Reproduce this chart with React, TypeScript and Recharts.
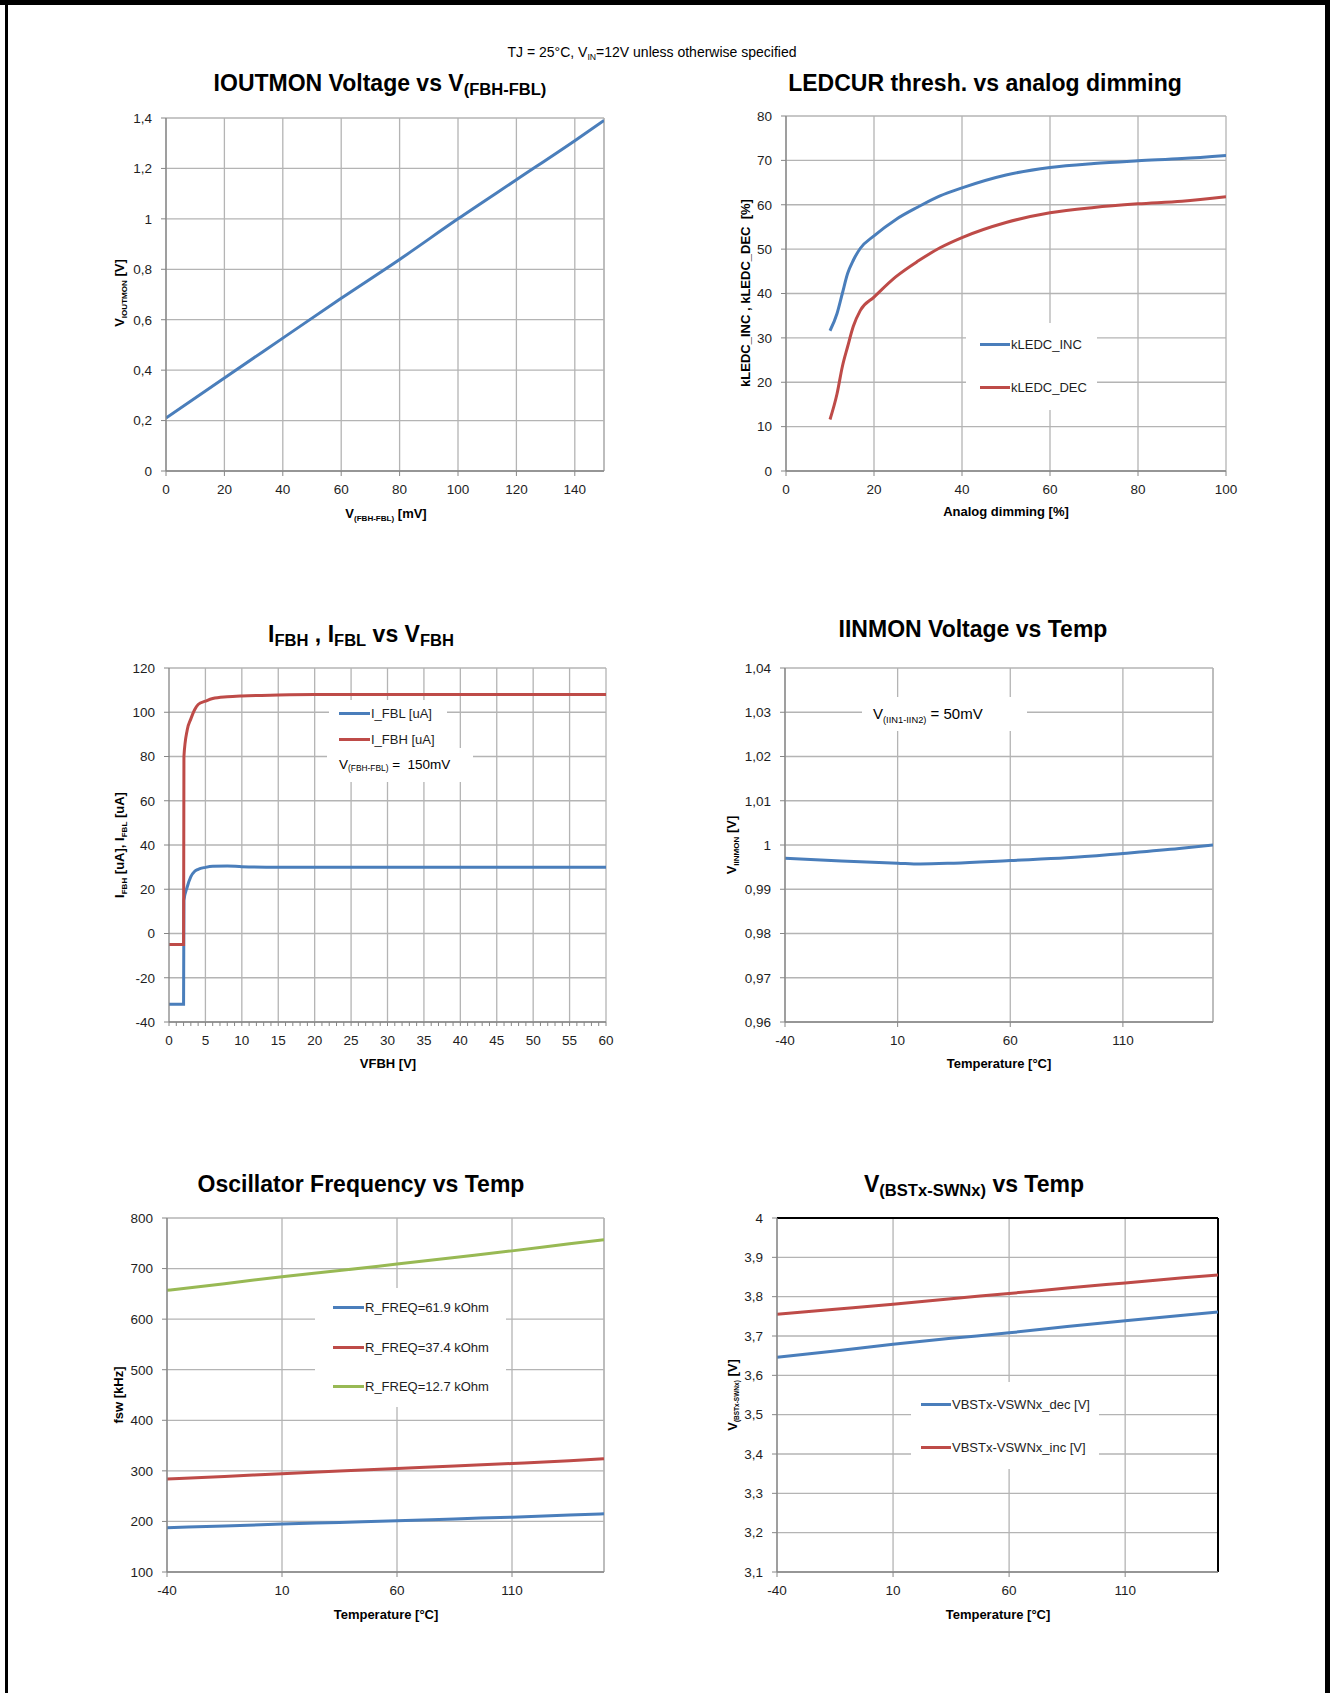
import React from "react";
import {
  LineChart, Line, XAxis, YAxis, CartesianGrid, ReferenceLine, Legend,
} from "recharts";

const FONT = '"Liberation Sans", Arial, sans-serif';
const BLUE = "#4a7ebb";
const RED = "#be4b48";
const GREEN = "#98b954";
const GRID = "#b4b4b4";
const AXIS = "#868686";
const INK = "#1e1e1e";

// IOUTMON voltage vs V(FBH-FBL)
const ioutX = [0, 20, 40, 60, 80, 100, 120, 140, 150];
const ioutV = [0.21, 0.369, 0.527, 0.685, 0.839, 1.0, 1.155, 1.31, 1.39];
const ioutXTicks = [0, 20, 40, 60, 80, 100, 120, 140];
const ioutYTicks = [0, 0.2, 0.4, 0.6, 0.8, 1, 1.2, 1.4];

// LEDCUR thresholds vs analog dimming
const dimX = [10, 11.6, 12.8, 14, 15.3, 16.9, 20, 25, 30, 35, 40, 50, 60, 70, 80, 90, 100];
const kledcInc = [31.6, 35.5, 40, 44.5, 47.5, 50.2, 53, 56.7, 59.5, 62, 63.8, 66.7, 68.4, 69.3, 69.9, 70.4, 71.1];
const kledcDec = [11.6, 17.4, 23.5, 28, 32.6, 36.2, 39.2, 43.8, 47.3, 50.3, 52.6, 56, 58.2, 59.4, 60.2, 60.8, 61.8];
const dimXTicks = [0, 20, 40, 60, 80, 100];
const dimYTicks = [0, 10, 20, 30, 40, 50, 60, 70, 80];

// I_FBH, I_FBL vs VFBH
const vfbhX = [0, 1, 2, 2.05, 2.5, 3, 3.5, 4, 5, 6, 8, 10, 15, 20, 30, 40, 50, 60];
const iFbl = [-32, -32, -32, 15, 21, 25.7, 28, 29, 29.9, 30.4, 30.5, 30.2, 30, 30, 30, 30, 30, 30];
const iFbh = [-5, -5, -5, 80, 92, 97, 101, 103.5, 105, 106.2, 107, 107.4, 107.8, 108, 108, 108, 108, 108];
const vfbhMinorTicks = Array.from({ length: 61 }, (_, i) => i);
const vfbhGrid = [5, 10, 15, 20, 25, 30, 35, 40, 45, 50, 55, 60];
const vfbhYTicks = [-40, -20, 0, 20, 40, 60, 80, 100, 120];

// IINMON voltage vs temperature
const iinX = [-40, -15, 10, 20, 35, 60, 85, 110, 135, 150];
const iinV = [0.997, 0.9964, 0.9959, 0.9957, 0.9959, 0.9965, 0.9971, 0.9981, 0.9992, 1.0];
const iinYTicks = [0.96, 0.97, 0.98, 0.99, 1, 1.01, 1.02, 1.03, 1.04];

// shared temperature axis
const tempX = [-40, -15, 10, 35, 60, 85, 110, 135, 150];
const tempTicks = [-40, 10, 60, 110];

// oscillator frequency vs temperature
const f619 = [187.5, 191, 194.7, 198, 201.3, 205, 208.5, 212.5, 215];
const f374 = [284, 289, 294.5, 299.5, 304.5, 309.5, 314.5, 320, 324];
const f127 = [657, 670, 684, 696, 709, 722, 735, 749, 757];
const fswYTicks = [100, 200, 300, 400, 500, 600, 700, 800];

// V(BSTx-SWNx) vs temperature
const bstDec = [3.646, 3.662, 3.679, 3.694, 3.708, 3.724, 3.739, 3.753, 3.761];
const bstInc = [3.755, 3.768, 3.781, 3.795, 3.808, 3.822, 3.835, 3.848, 3.855];
const bstYTicks = [3.1, 3.2, 3.3, 3.4, 3.5, 3.6, 3.7, 3.8, 3.9, 4];

const fmt = (v: number) => String(Number(v.toFixed(2))).replace(".", ",");

type Part = [string, boolean?];

function Rich({ parts, sub = 0.62, drop = 0.35 }: { parts: Part[]; sub?: number; drop?: number }) {
  return (
    <>
      {parts.map(([t, s], i) =>
        s ? (
          <span key={i} style={{ fontSize: `${sub}em`, position: "relative", top: `${drop}em` }}>{t}</span>
        ) : (
          <span key={i}>{t}</span>
        )
      )}
    </>
  );
}

// horizontal text placed by baseline
function Txt({ x, y, size, bold, anchor = "middle", children }: any) {
  return (
    <div
      style={{
        position: "absolute",
        left: x,
        top: y - 0.8465 * size,
        transform: anchor === "middle" ? "translateX(-50%)" : undefined,
        font: `${bold ? "bold " : ""}${size}px ${FONT}`,
        lineHeight: 1,
        whiteSpace: "pre",
        color: "#000",
      }}
    >
      {children}
    </div>
  );
}

// rotated axis title placed by center
function VTxt({ x, y, size, children }: any) {
  return (
    <div
      style={{
        position: "absolute",
        left: x,
        top: y,
        transform: "translate(-50%,-50%) rotate(-90deg)",
        font: `bold ${size}px ${FONT}`,
        lineHeight: 1,
        whiteSpace: "pre",
        color: "#000",
      }}
    >
      {children}
    </div>
  );
}

type Box = { l: number; t: number; r: number; b: number };
type Ser = { key: string; name: string; color: string };
type Leg = { x: number; y: number; w: number; h: number; lineX: number; row0: number; gap: number; lineW: number };

const PAD_L = 80, PAD_T = 12, PAD_R = 12, PAD_B = 40;

function legendContent(cfg: Leg) {
  return (props: any) => (
    <div style={{ position: "relative", width: cfg.w, height: cfg.h, background: "#fff" }}>
      {(props.payload || []).map((p: any, i: number) => (
        <div
          key={i}
          style={{
            position: "absolute",
            left: cfg.lineX,
            top: cfg.row0 + i * cfg.gap - 10,
            height: 20,
            display: "flex",
            alignItems: "center",
            whiteSpace: "nowrap",
          }}
        >
          <span style={{ display: "inline-block", width: cfg.lineW, height: 3, background: p.color }} />
          <span style={{ marginLeft: 1, font: `13px ${FONT}`, color: INK }}>{p.value}</span>
        </div>
      ))}
    </div>
  );
}

function MinorTick(p: any) {
  const v = p.payload.value;
  if (v % 5 !== 0) return <g />;
  return (
    <text x={p.x} y={p.y} dy="0.71em" textAnchor="middle" fill={INK} fontSize={13.5} fontFamily={FONT}>
      {v}
    </text>
  );
}

function Panel({
  plot, data, xDomain, xTicks, yDomain, yTicks, series, legend, edgeX, frame, minor, children,
}: {
  plot: Box; data: any[]; xDomain: [number, number]; xTicks: number[];
  yDomain: [number, number]; yTicks: number[]; series: Ser[]; legend?: Leg;
  edgeX?: number; frame?: boolean; minor?: boolean; children?: any;
}) {
  const W = plot.r - plot.l + PAD_L + PAD_R;
  const H = plot.b - plot.t + PAD_T + PAD_B;
  const left = plot.l - PAD_L;
  const top = plot.t - PAD_T;
  const tickStyle = { fill: INK, fontSize: 13.5, fontFamily: FONT };
  return (
    <div style={{ position: "absolute", left, top, width: W, height: H }}>
      <LineChart width={W} height={H} data={data} margin={{ top: PAD_T, right: PAD_R, bottom: 0, left: 0 }}>
        <CartesianGrid stroke={GRID} strokeWidth={1.3} vertical={!minor} />
        <XAxis
          type="number"
          dataKey="x"
          domain={xDomain}
          ticks={xTicks}
          interval={0}
          height={PAD_B}
          allowDataOverflow
          axisLine={{ stroke: AXIS, strokeWidth: 1.3 }}
          tickLine={{ stroke: AXIS }}
          tickSize={minor ? 4 : 5}
          tickMargin={minor ? 9.5 : 8.5}
          tick={minor ? MinorTick : tickStyle}
        />
        <YAxis
          type="number"
          domain={yDomain}
          ticks={yTicks}
          interval={0}
          width={PAD_L}
          allowDataOverflow
          axisLine={{ stroke: AXIS, strokeWidth: 1.3 }}
          tickLine={{ stroke: AXIS }}
          tickSize={5}
          tickMargin={9}
          tick={tickStyle}
          tickFormatter={fmt}
        />
        {children}
        {edgeX !== undefined && <ReferenceLine x={edgeX} stroke={frame ? "#000" : GRID} strokeWidth={frame ? 2 : 1.3} />}
        {frame && <ReferenceLine y={yDomain[1]} stroke="#000" strokeWidth={2} />}
        {series.map((s) => (
          <Line
            key={s.key}
            type="monotone"
            dataKey={s.key}
            name={s.name}
            stroke={s.color}
            strokeWidth={3}
            dot={false}
            activeDot={false}
            isAnimationActive={false}
          />
        ))}
        {legend && (
          <Legend
            layout="vertical"
            align="center"
            verticalAlign="middle"
            width={legend.w}
            height={legend.h}
            itemSorter={() => 0}
            wrapperStyle={{ left: legend.x - left, top: legend.y - top, width: legend.w, height: legend.h, margin: 0, padding: 0 }}
            content={legendContent(legend)}
          />
        )}
      </LineChart>
    </div>
  );
}

const ioutData = ioutX.map((x, i) => ({ x, v: ioutV[i] }));
const dimData = dimX.map((x, i) => ({ x, inc: kledcInc[i], dec: kledcDec[i] }));
const vfbhData = vfbhX.map((x, i) => ({ x, fbl: iFbl[i], fbh: iFbh[i] }));
const iinData = iinX.map((x, i) => ({ x, v: iinV[i] }));
const oscData = tempX.map((x, i) => ({ x, a: f619[i], b: f374[i], c: f127[i] }));
const bstData = tempX.map((x, i) => ({ x, dec: bstDec[i], inc: bstInc[i] }));

export default function App() {
  return (
    <div style={{ position: "absolute", left: 0, top: 0, width: 1330, height: 1693, background: "#fff", fontFamily: FONT }}>
      {/* page frame */}
      <div style={{ position: "absolute", left: 0, top: 0, width: 1330, height: 5, background: "#000" }} />
      <div style={{ position: "absolute", left: 5, top: 0, width: 3, height: 1693, background: "#000" }} />
      <div style={{ position: "absolute", left: 1325, top: 0, width: 5, height: 1693, background: "#000" }} />

      <Txt x={652} y={57} size={14}>
        <Rich parts={[["TJ = 25°C, V"], ["IN", true], ["=12V unless otherwise specified"]]} />
      </Txt>

      {/* 1 */}
      <Panel
        plot={{ l: 166, t: 118, r: 604, b: 471 }}
        data={ioutData}
        xDomain={[0, 150]}
        xTicks={ioutXTicks}
        yDomain={[0, 1.4]}
        yTicks={ioutYTicks}
        edgeX={150}
        series={[{ key: "v", name: "V_IOUTMON", color: BLUE }]}
      />
      <Txt x={380} y={91} size={23} bold>
        <Rich parts={[["IOUTMON Voltage vs V"], ["(FBH-FBL)", true]]} sub={0.72} drop={0.3} />
      </Txt>
      <VTxt x={120} y={293} size={13}>
        <Rich parts={[["V"], ["IOUTMON", true], [" [V]"]]} />
      </VTxt>
      <Txt x={386} y={518} size={13} bold>
        <Rich parts={[["V"], ["(FBH-FBL)", true], [" [mV]"]]} />
      </Txt>

      {/* 2 */}
      <Panel
        plot={{ l: 786, t: 116, r: 1226, b: 471 }}
        data={dimData}
        xDomain={[0, 100]}
        xTicks={dimXTicks}
        yDomain={[0, 80]}
        yTicks={dimYTicks}
        series={[
          { key: "inc", name: "kLEDC_INC", color: BLUE },
          { key: "dec", name: "kLEDC_DEC", color: RED },
        ]}
        legend={{ x: 966, y: 323, w: 131, h: 87, lineX: 14, row0: 21, gap: 43.4, lineW: 30 }}
      />
      <Txt x={985} y={91} size={23} bold>LEDCUR thresh. vs analog dimming</Txt>
      <VTxt x={745} y={293} size={13}>kLEDC_INC , kLEDC_DEC  [%]</VTxt>
      <Txt x={1006} y={516} size={13} bold>Analog dimming [%]</Txt>

      {/* 3 */}
      <Panel
        plot={{ l: 169, t: 668, r: 606, b: 1022 }}
        data={vfbhData}
        xDomain={[0, 60]}
        xTicks={vfbhMinorTicks}
        yDomain={[-40, 120]}
        yTicks={vfbhYTicks}
        minor
        series={[
          { key: "fbl", name: "I_FBL [uA]", color: BLUE },
          { key: "fbh", name: "I_FBH [uA]", color: RED },
        ]}
        legend={{ x: 329, y: 700, w: 118, h: 48, lineX: 10, row0: 13.3, gap: 26, lineW: 31 }}
      >
        {vfbhGrid.map((g) => (
          <ReferenceLine key={g} x={g} stroke={GRID} strokeWidth={1.3} />
        ))}
      </Panel>
      <div style={{ position: "absolute", left: 327, top: 748, width: 146, height: 34, background: "#fff" }} />
      <Txt x={339} y={769} size={13.5} anchor="start">
        <Rich parts={[["V"], ["(FBH-FBL)", true], [" =  150mV"]]} />
      </Txt>
      <Txt x={361} y={642} size={23} bold>
        <Rich parts={[["I"], ["FBH", true], [" , I"], ["FBL", true], [" vs V"], ["FBH", true]]} sub={0.72} drop={0.3} />
      </Txt>
      <VTxt x={120} y={845} size={13}>
        <Rich parts={[["I"], ["FBH", true], [" [uA], I"], ["FBL", true], [" [uA]"]]} />
      </VTxt>
      <Txt x={388} y={1068} size={13} bold>VFBH [V]</Txt>

      {/* 4 */}
      <Panel
        plot={{ l: 785, t: 668, r: 1213, b: 1022 }}
        data={iinData}
        xDomain={[-40, 150]}
        xTicks={tempTicks}
        yDomain={[0.96, 1.04]}
        yTicks={iinYTicks}
        edgeX={150}
        series={[{ key: "v", name: "V_IINMON", color: BLUE }]}
      />
      <div style={{ position: "absolute", left: 862, top: 697, width: 165, height: 34, background: "#fff" }} />
      <Txt x={873} y={719} size={15} anchor="start">
        <Rich parts={[["V"], ["(IIN1-IIN2)", true], [" = 50mV"]]} />
      </Txt>
      <Txt x={973} y={637} size={23} bold>IINMON Voltage vs Temp</Txt>
      <VTxt x={732} y={845} size={13}>
        <Rich parts={[["V"], ["IINMON", true], [" [V]"]]} />
      </VTxt>
      <Txt x={999} y={1068} size={13} bold>Temperature [°C]</Txt>

      {/* 5 */}
      <Panel
        plot={{ l: 167, t: 1218, r: 604, b: 1572 }}
        data={oscData}
        xDomain={[-40, 150]}
        xTicks={tempTicks}
        yDomain={[100, 800]}
        yTicks={fswYTicks}
        edgeX={150}
        series={[
          { key: "a", name: "R_FREQ=61.9 kOhm", color: BLUE },
          { key: "b", name: "R_FREQ=37.4 kOhm", color: RED },
          { key: "c", name: "R_FREQ=12.7 kOhm", color: GREEN },
        ]}
        legend={{ x: 315, y: 1288, w: 191, h: 119, lineX: 18, row0: 19.5, gap: 39.7, lineW: 31 }}
      />
      <Txt x={361} y={1192} size={23} bold>Oscillator Frequency vs Temp</Txt>
      <VTxt x={118} y={1395} size={13}>fsw [kHz]</VTxt>
      <Txt x={386} y={1619} size={13} bold>Temperature [°C]</Txt>

      {/* 6 */}
      <Panel
        plot={{ l: 777, t: 1218, r: 1218, b: 1572 }}
        data={bstData}
        xDomain={[-40, 150]}
        xTicks={tempTicks}
        yDomain={[3.1, 4]}
        yTicks={bstYTicks}
        edgeX={150}
        frame
        series={[
          { key: "dec", name: "VBSTx-VSWNx_dec [V]", color: BLUE },
          { key: "inc", name: "VBSTx-VSWNx_inc [V]", color: RED },
        ]}
        legend={{ x: 911, y: 1382, w: 188, h: 87, lineX: 10, row0: 22.3, gap: 42.7, lineW: 30 }}
      />
      <Txt x={974} y={1192} size={23} bold>
        <Rich parts={[["V"], ["(BSTx-SWNx)", true], [" vs Temp"]]} sub={0.72} drop={0.3} />
      </Txt>
      <VTxt x={732} y={1395} size={13}>
        <Rich parts={[["V"], ["(BSTx-SWNx)", true], [" [V]"]]} sub={0.5} />
      </VTxt>
      <Txt x={998} y={1619} size={13} bold>Temperature [°C]</Txt>
    </div>
  );
}
